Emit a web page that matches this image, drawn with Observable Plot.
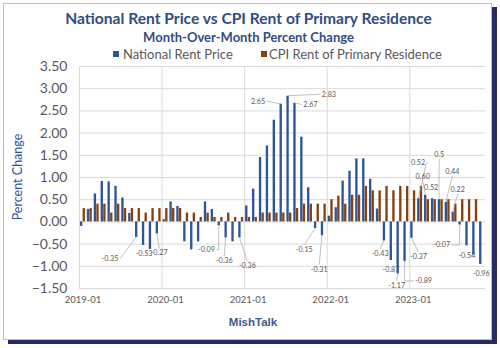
<!DOCTYPE html>
<html>
<head>
<meta charset="utf-8">
<script src="https://cdn.jsdelivr.net/npm/d3@7"></script>
<script src="https://cdn.jsdelivr.net/npm/@observablehq/plot@0.6"></script>
<style>
  html, body { margin: 0; padding: 0; background: #fff; }
  #wrap { position: relative; width: 500px; height: 348px; overflow: hidden; font-family: Lato, "Open Sans", sans-serif; }
  #frame { position: absolute; left: 3px; top: 3px; width: 487px; height: 335px; border: 1px solid #BFBFBF; box-shadow: 5px 4px 0 #262A66; background: #fff; }
  #chart { position: absolute; left: 0; top: 0; }
  .t { position: absolute; white-space: nowrap; }
  #title { left: 0; width: 497px; text-align: center; top: 8px; font-size: 15.6px; line-height: 20px; font-weight: 700; color: #2F4D85; }
  #subtitle { left: 0; width: 497px; text-align: center; top: 29px; font-size: 13px; line-height: 16px; font-weight: 700; color: #2F4D85; }
  .sw { position: absolute; width: 6px; height: 6px; top: 51px; }
  .lg { top: 46px; font-size: 13px; line-height: 16px; color: #595959; }
  #ylab { left: -42px; width: 120px; text-align: center; top: 169px; font-size: 12.5px; line-height: 16px; color: #2F5597; transform: rotate(-90deg); }
  #credit { left: 0; width: 506px; text-align: center; top: 315px; font-family: "Liberation Sans", Arial, sans-serif; font-size: 11.5px; line-height: 14px; font-weight: 700; color: #3E5A8A; }
</style>
</head>
<body>
<div id="wrap">
  <div id="frame"></div>
  <div id="chart"></div>
  <div class="t" id="title">National Rent Price vs CPI Rent of Primary Residence</div>
  <div class="t" id="subtitle">Month-Over-Month Percent Change</div>
  <div class="sw" style="left:113px;background:#2E5597"></div>
  <div class="t lg" style="left:123px">National Rent Price</div>
  <div class="sw" style="left:261px;background:#85420F"></div>
  <div class="t lg" style="left:269px">CPI Rent of Primary Residence</div>
  <div class="t" id="ylab">Percent Change</div>
  <div class="t" id="credit">MishTalk</div>
</div>
<script>
// ---- data (month-over-month % change), monthly from 2019-01 ----
const startMonth = new Date(Date.UTC(2019, 0, 1));
const endMonth = new Date(Date.UTC(2023, 11, 1)); // exclusive -> last month 2023-11

const nationalRent = [
  -0.10, 0.28, 0.63, 0.91, 0.90, 0.80, 0.54, 0.19, -0.35, -0.53, -0.62, -0.27,
   0.05, 0.45, 0.35, -0.45, -0.63, -0.45, 0.45, 0.28, -0.09, -0.36, -0.45, -0.36,
   0.36, 0.74, 1.45, 1.71, 2.29, 2.65, 2.83, 2.67, 1.91, 0.77, -0.15, -0.31,
   0.13, 0.32, 0.92, 1.14, 1.42, 1.42, 0.96, 0.29, -0.43, -0.87, -1.17, -0.89,
  -0.37, 0.52, 0.60, 0.52, 0.50, 0.44, 0.22, -0.07, -0.54, -0.75, -0.96
];
const cpiRent = [
  0.30, 0.30, 0.40, 0.40, 0.20, 0.40, 0.30, 0.30, 0.30, 0.20, 0.30, 0.30,
  0.30, 0.30, 0.30, 0.20, 0.20, 0.10, 0.20, 0.10, 0.10, 0.20, 0.10, 0.10,
  0.10, 0.10, 0.20, 0.20, 0.20, 0.20, 0.20, 0.30, 0.40, 0.40, 0.40, 0.40,
  0.50, 0.58, 0.40, 0.60, 0.60, 0.80, 0.70, 0.70, 0.80, 0.70, 0.80, 0.80,
  0.70, 0.80, 0.50, 0.50, 0.50, 0.50, 0.40, 0.50, 0.50, 0.50
];
const xTickLabels = ["2019-01", "2020-01", "2021-01", "2022-01", "2023-01"];
const yTicks = [-1.5, -1.0, -0.5, 0, 0.5, 1.0, 1.5, 2.0, 2.5, 3.0, 3.5];

// labelled National Rent Price bars (month label -> text shown)
const labelledMonths = ["2019-09","2019-10","2019-12","2020-09","2020-10","2020-12","2021-06","2021-07","2021-08",
  "2021-11","2021-12","2022-09","2022-10","2022-11","2022-12","2023-01","2023-02","2023-03","2023-04","2023-05",
  "2023-06","2023-07","2023-08","2023-09","2023-11"];
const labelTexts = ["-0.35","-0.53","-0.27","-0.09","-0.36","-0.36","2.65","2.83","2.67",
  "-0.15","-0.31","-0.43","-0.87","-1.17","-0.89","-0.37","0.52","0.60","0.52","0.5",
  "0.44","0.22","-0.07","-0.54","-0.96"];

// ---- layout of data labels (pixel offsets from bar end; anchor; leader style) ----
const labelLayout = [
  {dx:-17.8, dy:22, a:"end", l:"line"}, {dx:1, dy:8.5, a:"middle", l:null}, {dx:2.3, dy:19.5, a:"middle", l:"line"},
  {dx:-3.8, dy:24.5, a:"end", l:"elbow"}, {dx:-1.4, dy:23.5, a:"middle", l:"line"}, {dx:8, dy:28.5, a:"middle", l:"line"},
  {dx:-15.6, dy:-2.5, a:"end", l:"line"}, {dx:34.2, dy:-1.5, a:"start", l:"line"}, {dx:8.9, dy:1.7, a:"start", l:"line"},
  {dx:-10.8, dy:21.2, a:"middle", l:"line"}, {dx:-2.7, dy:34, a:"middle", l:"line"}, {dx:-3.8, dy:12.7, a:"middle", l:"line"},
  {dx:0.2, dy:9.8, a:"middle", l:null}, {dx:-1, dy:12.2, a:"middle", l:"line"}, {dx:10.6, dy:20, a:"start", l:"elbow"},
  {dx:7, dy:18.8, a:"middle", l:"line"}, {dx:6.8, dy:-36, a:"end", l:"line"}, {dx:-2.5, dy:-18.75, a:"middle", l:"line"},
  {dx:-0.9, dy:-11, a:"middle", l:null}, {dx:0.2, dy:-45, a:"middle", l:"line"}, {dx:6.4, dy:-30.2, a:"middle", l:"line"},
  {dx:5, dy:-22.4, a:"middle", l:"line"}, {dx:-9.4, dy:20.4, a:"end", l:"elbow"}, {dx:0.4, dy:10.5, a:"middle", l:null},
  {dx:1, dy:9.1, a:"middle", l:null}
];

const BLUE = "#2E5597", BROWN = "#85420F", GRID = "#D9D9D9", TXT = "#595959";

const months = d3.utcMonth.range(startMonth, endMonth);
const fmtMonth = d3.utcFormat("%Y-%m");
const monthLabels = months.map(fmtMonth);
const nationalRows = nationalRent.map((v, i) => ({m: i, v}));
const cpiRows = cpiRent.map((v, i) => ({m: i, v}));
const tickIdx = xTickLabels.map(l => monthLabels.indexOf(l));
const boundaries = tickIdx.map(i => i - 0.5);
const annotations = labelledMonths.map((lab, k) => {
  const m = monthLabels.indexOf(lab);
  return {m, v: nationalRent[m], text: labelTexts[k], ...labelLayout[k]};
});

function annotate(index, scales) {
  const g = d3.create("svg:g");
  const lines = g.append("g").attr("fill", "none").attr("stroke", "#A6A6A6").attr("stroke-width", 0.7);
  const texts = g.append("g").attr("font-family", "Lato, sans-serif").attr("font-size", 7.2).attr("fill", TXT);
  for (const a of annotations) {
    const bx = scales.x(a.m - 0.19), by = scales.y(a.v);
    const lx = bx + a.dx, ly = by + a.dy;
    texts.append("text").attr("x", lx).attr("y", ly).attr("dy", "0.35em").attr("text-anchor", a.a).text(a.text);
    if (!a.l) continue;
    let sx = lx, sy = ly;
    if (a.a === "end") sx = lx + 1.5;
    else if (a.a === "start") sx = lx - 1.5;
    else sy = a.dy > 0 ? ly - 4.5 : ly + 4.5;
    const pts = a.l === "elbow" ? [[sx, sy], [bx, sy], [bx, by]] : [[sx, sy], [bx, by]];
    lines.append("path").attr("d", d3.line()(pts));
  }
  return g.node();
}

const chart = Plot.plot({
  width: 500,
  height: 348,
  marginLeft: 79,
  marginRight: 15,
  marginTop: 66,
  marginBottom: 60,
  style: {background: "none", overflow: "visible", fontFamily: "Lato, sans-serif"},
  x: {type: "linear", domain: [-0.5, monthLabels.length - 0.5]},
  y: {domain: [-1.5, 3.5]},
  marks: [
    Plot.ruleY(yTicks, {stroke: GRID, strokeWidth: 1}),
    Plot.ruleX(boundaries, {stroke: GRID, strokeWidth: 1}),
    Plot.rect(nationalRows, {x1: d => d.m - 0.36, x2: d => d.m - 0.02, y1: 0, y2: "v", fill: BLUE}),
    Plot.rect(cpiRows, {x1: d => d.m + 0.02, x2: d => d.m + 0.36, y1: 0, y2: "v", fill: BROWN}),
    Plot.axisY({ticks: yTicks, tickFormat: d3.format(".2f"), tickSize: 0, tickPadding: 12, fontSize: 14, color: TXT, label: null}),
    Plot.axisX({ticks: tickIdx, tickFormat: i => monthLabels[i], tickSize: 0, tickPadding: 8, fontSize: 9.5, color: TXT, label: null}),
    annotate
  ]
});
document.getElementById("chart").appendChild(chart);
</script>
</body>
</html>
